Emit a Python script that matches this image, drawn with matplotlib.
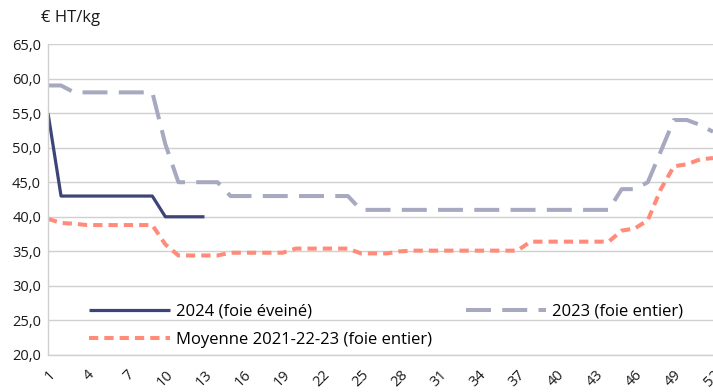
import matplotlib
matplotlib.use("Agg")
import matplotlib.pyplot as plt
import numpy as np

plt.rcParams['font.family'] = ['Open Sans', 'DejaVu Sans']

weeks = list(range(1, 53))
s2024 = [55, 43, 43, 43, 43, 43, 43, 43, 43, 40, 40, 40, 40]
s2023 = ([59, 59, 58, 58, 58, 58, 58, 58, 58, 50.5, 45, 45, 45, 45]
         + [43] * 10 + [41] * 20
         + [44, 44, 45, 49.5, 54, 54, 53.3, 52.3])
smoy = ([39.7, 39.1, 39.0] + [38.8] * 6 + [36.0] + [34.4] * 4
        + [34.8] * 5 + [35.4] * 5 + [34.7] * 3 + [35.0] + [35.1] * 9
        + [36.4] * 7 + [38.0, 38.3, 39.5, 44.0, 47.3, 47.6, 48.3, 48.5])
yticks = [20, 25, 30, 35, 40, 45, 50, 55, 60, 65]
xticks = list(range(1, 53, 3))

c2024 = '#3d4478'
c2023 = '#a7a9c0'
cmoy = '#ff8b7a'

fig = plt.figure(figsize=(7.13, 3.92), dpi=100)
ax = fig.add_axes([48 / 713, 1 - 355 / 392, 1 - 48 / 713, (355 - 44) / 392])

l1, = ax.plot(weeks[:len(s2024)], s2024, color=c2024, lw=2.3, solid_capstyle='butt',
              label='2024 (foie éveiné)')
l2, = ax.plot(weeks, s2023, color=c2023, lw=2.9, dashes=(6.2, 2.8), dash_capstyle='butt',
              label='2023 (foie entier)')
l3, = ax.plot(weeks, smoy, color=cmoy, lw=2.9, dashes=(2.3, 1.5), dash_capstyle='butt',
              label='Moyenne 2021-22-23 (foie entier)')

ax.set_xlim(1, 52)
ax.set_ylim(20, 65)
ax.set_yticks(yticks)
ax.set_yticklabels([f"{v:.1f}".replace('.', ',') for v in yticks], fontsize=10.5, color='#1a1a1a')
ax.set_xticks(xticks)
ax.set_xticklabels([str(v) for v in xticks], rotation=45, ha='right', va='top',
                   rotation_mode='anchor', fontsize=10.5, color='#1a1a1a')
ax.tick_params(axis='both', length=0, pad=5)
ax.tick_params(axis='x', pad=9)
ax.grid(axis='y', color='#d0d0d0', lw=1)
ax.set_axisbelow(True)
for s in ['top', 'right']:
    ax.spines[s].set_visible(False)
ax.spines['left'].set_color('#d0d0d0')
ax.spines['bottom'].set_color('#d0d0d0')
ax.spines['left'].set_linewidth(1)
ax.spines['bottom'].set_linewidth(1)

leg_kw = dict(loc='upper left', frameon=False, fontsize=12, handlelength=4.85,
              handletextpad=0.36, labelspacing=0.72, borderpad=0, borderaxespad=0)
leg1 = ax.legend(handles=[l1, l3], bbox_to_anchor=(0.0624, 0.165), **leg_kw)
ax.add_artist(leg1)
ax.legend(handles=[l2], bbox_to_anchor=(0.628, 0.165), **leg_kw)

fig.text(41 / 713, 1 - 18 / 392, '€ HT/kg', fontsize=12, color='#1a1a1a', va='center', ha='left')

fig.savefig('out.png', dpi=100)
